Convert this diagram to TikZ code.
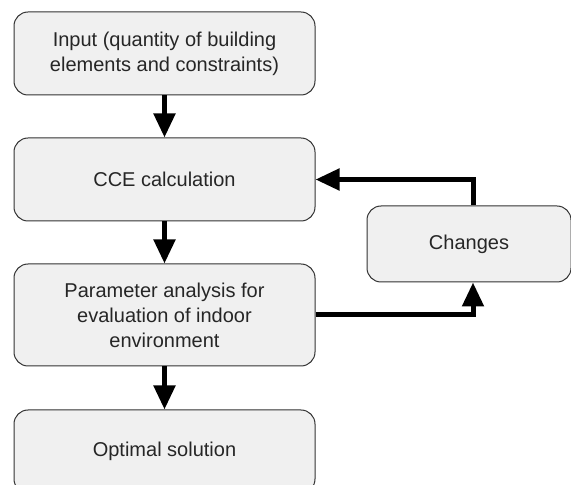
\documentclass[tikz,border=0pt]{standalone}
\usepackage{fontspec}
\setmainfont{Liberation Sans}
\usetikzlibrary{arrows.meta}
\begin{document}
\begin{tikzpicture}[x=1pt,y=1pt,
  box/.style={draw=black!80, line width=1pt, fill=black!6, rounded corners=14pt,
    minimum width=301pt, align=center, text=black!85, font=\fontsize{20pt}{25pt}\selectfont, inner sep=0pt},
  flow/.style={line width=5pt, -{Triangle[length=24pt,width=21pt]}}]
\useasboundingbox (0,0) rectangle (571,485);
\node[box, minimum height=83pt] (in) at (164.5,431.5) {Input (quantity of building\\elements and constraints)};
\node[box, minimum height=83pt] (cce) at (164.5,305.5) {CCE calculation};
\node[box, minimum height=102pt] (par) at (164.5,170) {Parameter analysis for\\evaluation of indoor\\environment};
\node[box, minimum height=83pt] (opt) at (164.5,33.5) {Optimal solution};
\node[box, minimum height=76pt, minimum width=204pt] (ch) at (469,241) {Changes};
\draw[flow] (in.south) -- (cce.north);
\draw[flow] (cce.south) -- (par.north);
\draw[flow] (par.south) -- (opt.north);
\draw[flow] ([xshift=4pt]ch.north) |- (cce.east);
\draw[flow] (par.east) -| ([xshift=4pt]ch.south);
\end{tikzpicture}
\end{document}
